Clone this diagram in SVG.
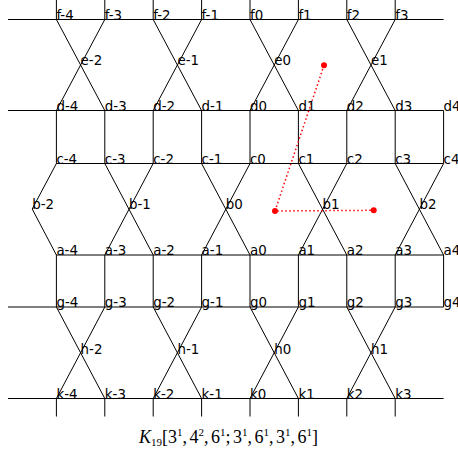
<svg xmlns="http://www.w3.org/2000/svg" width="458" height="458" viewBox="0 0 458 458">
<style>
.e{stroke:#000;stroke-width:1;fill:none}
.l{font-family:"DejaVu Sans",sans-serif;font-size:13.4px;fill:#000}
.r{stroke:#f00;stroke-width:1.5;stroke-dasharray:1.5,2.5;fill:none}
.t{font-family:"Liberation Serif",serif;font-size:18px;fill:#000}
.s{font-size:11px}
</style>
<rect width="458" height="458" fill="#fff"/>
<g id="connectors" class="e">
<path d="M8,19.5H443.6M8,110.5H443.6M56.4,163.5H443.6M56.4,255H443.6M8,307H443.6M8,398.5H443.6"/>
<path d="M56.4,0V19.5M104.8,0V19.5M153.2,0V19.5M201.6,0V19.5M250,0V19.5M298.4,0V19.5M346.8,0V19.5M395.2,0V19.5"/>
<path d="M56.4,110.5V163.5M104.8,110.5V163.5M153.2,110.5V163.5M201.6,110.5V163.5M250,110.5V163.5M298.4,110.5V163.5M346.8,110.5V163.5M395.2,110.5V163.5M443.6,110.5V163.5"/>
<path d="M56.4,255V307M104.8,255V307M153.2,255V307M201.6,255V307M250,255V307M298.4,255V307M346.8,255V307M395.2,255V307M443.6,255V307"/>
<path d="M56.4,398.5V416.5M104.8,398.5V416.5M153.2,398.5V416.5M201.6,398.5V416.5M250,398.5V416.5M298.4,398.5V416.5M346.8,398.5V416.5M395.2,398.5V416.5"/>
<path d="M56.4,19.5L104.8,110.5M104.8,19.5L56.4,110.5M153.2,19.5L201.6,110.5M201.6,19.5L153.2,110.5M250,19.5L298.4,110.5M298.4,19.5L250,110.5M346.8,19.5L395.2,110.5M395.2,19.5L346.8,110.5"/>
<path d="M56.4,163.5L32.2,209L56.4,255M104.8,163.5L153.2,255M153.2,163.5L104.8,255M201.6,163.5L250,255M250,163.5L201.6,255M298.4,163.5L346.8,255M346.8,163.5L298.4,255M395.2,163.5L443.6,255M443.6,163.5L395.2,255"/>
<path d="M56.4,307L104.8,398.5M104.8,307L56.4,398.5M153.2,307L201.6,398.5M201.6,307L153.2,398.5M250,307L298.4,398.5M298.4,307L250,398.5M346.8,307L395.2,398.5M395.2,307L346.8,398.5"/>
</g>
<g id="marks">
<path class="r" d="M324,65.3L275,211L373.7,210.3"/>
<circle cx="324" cy="65.3" r="3" fill="#f00"/>
<circle cx="275" cy="211" r="3" fill="#f00"/>
<circle cx="373.7" cy="210.3" r="3" fill="#f00"/>
</g>
<g class="l">
<g id="n-f-4"><text x="56.4" y="19.5">f-4</text></g>
<g id="n-f-3"><text x="104.8" y="19.5">f-3</text></g>
<g id="n-f-2"><text x="153.2" y="19.5">f-2</text></g>
<g id="n-f-1"><text x="201.6" y="19.5">f-1</text></g>
<g id="n-f0"><text x="250" y="19.5">f0</text></g>
<g id="n-f1"><text x="298.4" y="19.5">f1</text></g>
<g id="n-f2"><text x="346.8" y="19.5">f2</text></g>
<g id="n-f3"><text x="395.2" y="19.5">f3</text></g>
<g id="n-e-2"><text x="80.6" y="65">e-2</text></g>
<g id="n-e-1"><text x="177.4" y="65">e-1</text></g>
<g id="n-e0"><text x="274.2" y="65">e0</text></g>
<g id="n-e1"><text x="371" y="65">e1</text></g>
<g id="n-d-4"><text x="56.4" y="110.5">d-4</text></g>
<g id="n-d-3"><text x="104.8" y="110.5">d-3</text></g>
<g id="n-d-2"><text x="153.2" y="110.5">d-2</text></g>
<g id="n-d-1"><text x="201.6" y="110.5">d-1</text></g>
<g id="n-d0"><text x="250" y="110.5">d0</text></g>
<g id="n-d1"><text x="298.4" y="110.5">d1</text></g>
<g id="n-d2"><text x="346.8" y="110.5">d2</text></g>
<g id="n-d3"><text x="395.2" y="110.5">d3</text></g>
<g id="n-d4"><text x="443.6" y="110.5">d4</text></g>
<g id="n-c-4"><text x="56.4" y="163.5">c-4</text></g>
<g id="n-c-3"><text x="104.8" y="163.5">c-3</text></g>
<g id="n-c-2"><text x="153.2" y="163.5">c-2</text></g>
<g id="n-c-1"><text x="201.6" y="163.5">c-1</text></g>
<g id="n-c0"><text x="250" y="163.5">c0</text></g>
<g id="n-c1"><text x="298.4" y="163.5">c1</text></g>
<g id="n-c2"><text x="346.8" y="163.5">c2</text></g>
<g id="n-c3"><text x="395.2" y="163.5">c3</text></g>
<g id="n-c4"><text x="443.6" y="163.5">c4</text></g>
<g id="n-b-2"><text x="32.2" y="209">b-2</text></g>
<g id="n-b-1"><text x="129" y="209">b-1</text></g>
<g id="n-b0"><text x="225.8" y="209">b0</text></g>
<g id="n-b1"><text x="322.6" y="209">b1</text></g>
<g id="n-b2"><text x="419.4" y="209">b2</text></g>
<g id="n-a-4"><text x="56.4" y="255">a-4</text></g>
<g id="n-a-3"><text x="104.8" y="255">a-3</text></g>
<g id="n-a-2"><text x="153.2" y="255">a-2</text></g>
<g id="n-a-1"><text x="201.6" y="255">a-1</text></g>
<g id="n-a0"><text x="250" y="255">a0</text></g>
<g id="n-a1"><text x="298.4" y="255">a1</text></g>
<g id="n-a2"><text x="346.8" y="255">a2</text></g>
<g id="n-a3"><text x="395.2" y="255">a3</text></g>
<g id="n-a4"><text x="443.6" y="255">a4</text></g>
<g id="n-g-4"><text x="56.4" y="307">g-4</text></g>
<g id="n-g-3"><text x="104.8" y="307">g-3</text></g>
<g id="n-g-2"><text x="153.2" y="307">g-2</text></g>
<g id="n-g-1"><text x="201.6" y="307">g-1</text></g>
<g id="n-g0"><text x="250" y="307">g0</text></g>
<g id="n-g1"><text x="298.4" y="307">g1</text></g>
<g id="n-g2"><text x="346.8" y="307">g2</text></g>
<g id="n-g3"><text x="395.2" y="307">g3</text></g>
<g id="n-g4"><text x="443.6" y="307">g4</text></g>
<g id="n-h-2"><text x="80.6" y="353.5">h-2</text></g>
<g id="n-h-1"><text x="177.4" y="353.5">h-1</text></g>
<g id="n-h0"><text x="274.2" y="353.5">h0</text></g>
<g id="n-h1"><text x="371" y="353.5">h1</text></g>
<g id="n-k-4"><text x="56.4" y="398.5">k-4</text></g>
<g id="n-k-3"><text x="104.8" y="398.5">k-3</text></g>
<g id="n-k-2"><text x="153.2" y="398.5">k-2</text></g>
<g id="n-k-1"><text x="201.6" y="398.5">k-1</text></g>
<g id="n-k0"><text x="250" y="398.5">k0</text></g>
<g id="n-k1"><text x="298.4" y="398.5">k1</text></g>
<g id="n-k2"><text x="346.8" y="398.5">k2</text></g>
<g id="n-k3"><text x="395.2" y="398.5">k3</text></g>
</g>
<g id="title"><text class="t" x="139" y="443"><tspan font-style="italic">K</tspan><tspan class="s" dy="3">19</tspan><tspan dy="-3">[3</tspan><tspan class="s" dy="-7">1</tspan><tspan dy="7">,</tspan><tspan dx="2.5">4</tspan><tspan class="s" dy="-7">2</tspan><tspan dy="7">,</tspan><tspan dx="2.5">6</tspan><tspan class="s" dy="-7">1</tspan><tspan dy="7">;</tspan><tspan dx="2.5">3</tspan><tspan class="s" dy="-7">1</tspan><tspan dy="7">,</tspan><tspan dx="2.5">6</tspan><tspan class="s" dy="-7">1</tspan><tspan dy="7">,</tspan><tspan dx="2.5">3</tspan><tspan class="s" dy="-7">1</tspan><tspan dy="7">,</tspan><tspan dx="2.5">6</tspan><tspan class="s" dy="-7">1</tspan><tspan dy="7">]</tspan></text></g>
</svg>
